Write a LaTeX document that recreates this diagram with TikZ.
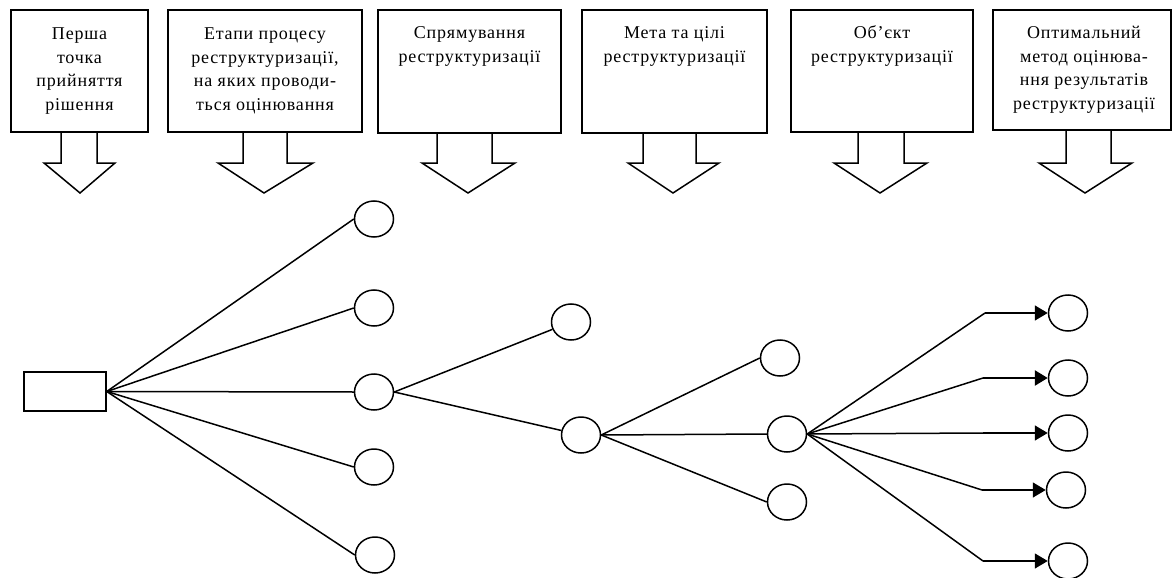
\documentclass[tikz,border=0pt]{standalone}
\usepackage{fontspec}
\setmainfont{Liberation Serif}
\newfontfamily\spc[LetterSpace=4.5]{Liberation Serif}
\usetikzlibrary{shapes.geometric,arrows.meta}
\begin{document}
\begin{tikzpicture}[x=1pt,y=-1pt,line width=1.5pt,line join=miter,
  box/.style={draw,rectangle,inner sep=0pt,line width=1.5pt},
  lbl/.style={anchor=north,align=center,inner sep=0pt,font=\spc\fontsize{18}{23.5}\selectfont},
  nd/.style={draw,ellipse,minimum width=39pt,minimum height=36pt,inner sep=0pt},
  harrow/.style={draw,line width=1.5pt},
  arr/.style={-{Triangle[length=13pt,width=15pt]}}]
\useasboundingbox (0,0) rectangle (1173,578);
% top boxes
\node[box,minimum width=137pt,minimum height=122pt] (b1) at (79.5,71) {};
\node[box,minimum width=194pt,minimum height=122pt] (b2) at (265,71) {};
\node[box,minimum width=183pt,minimum height=123pt] (b3) at (469.5,71.5) {};
\node[box,minimum width=185pt,minimum height=123pt] (b4) at (674.5,71.5) {};
\node[box,minimum width=182pt,minimum height=122pt] (b5) at (882,71) {};
\node[box,minimum width=178pt,minimum height=120pt] (b6) at (1082,70) {};
% texts
\node[lbl] (t1) at (79.5,22.5) {\strut Перша\\точка\\прийняття\\рішення};
\node[lbl] (t2) at (265,22.5) {\strut Етапи процесу\\реструктуризації,\\на яких проводи-\\ться оцінювання};
\node[lbl] (t3) at (469.5,21.5) {\strut Спрямування\\реструктуризації};
\node[lbl] (t4) at (674.5,21.5) {\strut Мета та цілі\\реструктуризації};
\node[lbl] (t5) at (882,21.5) {\strut Об’єкт\\реструктуризації};
\node[lbl] (t6) at (1084,21.5) {\strut Оптимальний\\метод оцінюва-\\ння результатів\\реструктуризації};
% block arrows
\draw[harrow] (61,132) -- (61,163) -- (44,163) -- (80,193) -- (115,163) -- (97,163) -- (97,132);
\draw[harrow] (243,132) -- (243,163) -- (218,163) -- (264,193) -- (313,163) -- (287,163) -- (287,132);
\draw[harrow] (437,133) -- (437,163) -- (422,163) -- (468,193) -- (515,163) -- (492,163) -- (492,133);
\draw[harrow] (643,133) -- (643,163) -- (628,163) -- (673,193) -- (719,163) -- (696,163) -- (696,133);
\draw[harrow] (858,132) -- (858,163) -- (834,163) -- (880,193) -- (927,163) -- (904,163) -- (904,132);
\draw[harrow] (1066,130) -- (1066,163) -- (1039,163) -- (1085,193) -- (1132,163) -- (1111,163) -- (1111,130);
% tree
\node[box,minimum width=82pt,minimum height=39pt] (r) at (65,391.5) {};
\node[nd] (a1) at (374,219) {};
\node[nd] (a2) at (374,308) {};
\node[nd] (a3) at (374,392) {};
\node[nd] (a4) at (374,467) {};
\node[nd] (a5) at (375,555) {};
\node[nd] (c1) at (571,322) {};
\node[nd] (c2) at (581,435) {};
\node[nd] (d1) at (780,358) {};
\node[nd] (d2) at (787,434) {};
\node[nd] (d3) at (787,502) {};
\node[nd] (e1) at (1068,313) {};
\node[nd] (e2) at (1068,378) {};
\node[nd] (e3) at (1068,433) {};
\node[nd] (e4) at (1066,490) {};
\node[nd] (e5) at (1068,561) {};
\coordinate (k1) at (985,313);
\coordinate (k2) at (983,378);
\coordinate (k3) at (983,433);
\coordinate (k4) at (982,490);
\coordinate (k5) at (983,561);
\foreach \n in {a1,a2,a3,a4,a5} \draw (r.east) -- (\n.west);
\draw (a3.east) -- (c1);
\draw (a3.east) -- (c2);
\foreach \n in {d1,d2,d3} \draw (c2.east) -- (\n.west);
\foreach \k in {k1,k2,k3,k4,k5} \draw (d2.east) -- (\k);
\draw[arr] (k1) -- (e1.west);
\draw[arr,line width=2.6pt] (k2) -- (e2.west);
\draw[arr] (k3) -- (e3.west);
\draw[arr] (k4) -- (e4.west);
\draw[arr] (k5) -- (e5.west);
\end{tikzpicture}
\end{document}
